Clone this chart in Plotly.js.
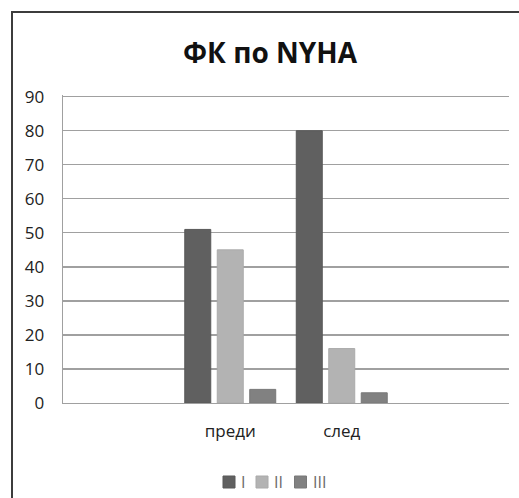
<!DOCTYPE html>
<html>
<head>
<meta charset="utf-8">
<script src="https://cdn.plot.ly/plotly-3.0.1.min.js"></script>
<style>
  html, body { margin: 0; padding: 0; background: #fff; overflow: hidden; }
  #wrap { position: relative; width: 519px; height: 498px; }
  #chart { position: absolute; left: 0; top: 0; width: 519px; height: 498px; }
  #frame { position: absolute; left: 11px; top: 11px; width: 530px; height: 510px;
           border: 2px solid #3c3c3c; box-sizing: border-box; pointer-events: none; }
</style>
</head>
<body>
<div id="wrap">
  <div id="chart"></div>
  <div id="frame"></div>
</div>
<script>
// Functional class (NYHA) before and after
const categories = ["преди", "след"];
const seriesNames = ["I", "II", "III"];
const classI = [51, 80];
const classII = [45, 16];
const classIII = [4, 3];
const yTicks = [0, 10, 20, 30, 40, 50, 60, 70, 80, 90];

const colors = ["#606060", "#b3b3b3", "#818181"];
const edges = ["#585858", "#aaaaaa", "#787878"];
const values = [classI, classII, classIII];

const FONT = "Open Sans, Noto Sans, sans-serif";

// plot box in pixels
const W = 519, H = 498;
const M = { l: 63, r: 10, t: 95, b: 95 };
const plotW = W - M.l - M.r;
const plotH = H - M.t - M.b;
const px2x = px => (px - M.l) / plotW;
const py2y = py => (H - M.b - py) / plotH;

const traces = values.map((v, i) => ({
  type: "bar",
  name: seriesNames[i],
  x: categories,
  y: v,
  marker: { color: colors[i], line: { color: edges[i], width: 1 } },
  hoverinfo: "x+y+name"
}));

// compact legend row under the axis: swatch + label per series
const shapes = [];
const annotations = [];
let lx = 223;
const ly = 482;
seriesNames.forEach((name, i) => {
  shapes.push({
    type: "rect", xref: "paper", yref: "paper",
    x0: px2x(lx), x1: px2x(lx + 12),
    y0: py2y(ly + 6), y1: py2y(ly - 6),
    fillcolor: colors[i], line: { color: edges[i], width: 1 }
  });
  annotations.push({
    xref: "paper", yref: "paper",
    x: px2x(lx + 17), y: py2y(ly),
    xanchor: "left", yanchor: "middle",
    text: name, showarrow: false, borderpad: 0,
    font: { family: FONT, size: 16, color: "#6a6a6a" }
  });
  const textW = 4 + (name.length - 1) * 5.5;
  lx = lx + 19 + textW + 10;
});

const layout = {
  width: W,
  height: H,
  margin: M,
  paper_bgcolor: "#ffffff",
  plot_bgcolor: "#ffffff",
  font: { family: FONT, color: "#333333" },
  title: {
    text: "<b>ФК по NYHA</b>",
    font: { family: FONT, size: 28, color: "#111111" },
    x: 270 / W,
    xanchor: "center",
    xref: "container",
    y: 1 - 53 / H,
    yref: "container",
    yanchor: "middle"
  },
  barmode: "group",
  bargap: 0.126,
  bargroupgap: 0.2,
  showlegend: false,
  shapes: shapes,
  annotations: annotations,
  xaxis: {
    type: "category",
    range: [-1.5, 2.5],
    automargin: false,
    showgrid: false,
    showline: true,
    linecolor: "#a0a0a0",
    linewidth: 1.3,
    zeroline: false,
    ticks: "",
    ticklabelstandoff: 12,
    tickfont: { family: FONT, size: 17, color: "#222222" },
    fixedrange: true
  },
  yaxis: {
    range: [0, 90.5],
    automargin: false,
    tickvals: yTicks,
    ticktext: yTicks.map(String),
    showgrid: true,
    gridcolor: "#a0a0a0",
    gridwidth: 1.3,
    showline: true,
    linecolor: "#a0a0a0",
    linewidth: 1.3,
    zeroline: false,
    ticks: "",
    ticklabelstandoff: 14,
    tickfont: { family: FONT, size: 17, color: "#222222" },
    fixedrange: true
  }
};

Plotly.newPlot("chart", traces, layout, { displayModeBar: false, staticPlot: true });
</script>
</body>
</html>
